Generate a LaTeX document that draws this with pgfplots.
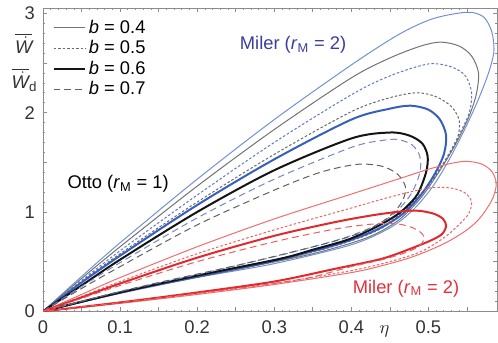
\documentclass[border=0pt]{standalone}
\usepackage{fontspec}
\setmainfont{Liberation Sans}
\usepackage{pgfplots}
\pgfplotsset{compat=1.18}
\definecolor{mbthin}{RGB}{115,145,210}
\definecolor{mbdot}{RGB}{95,120,200}
\definecolor{mbthick}{RGB}{55,95,190}
\definecolor{mbdash}{RGB}{115,135,195}
\definecolor{othin}{RGB}{115,115,115}
\definecolor{odot}{RGB}{105,105,110}
\definecolor{othick}{RGB}{20,20,20}
\definecolor{odash}{RGB}{95,95,100}
\definecolor{rthin}{RGB}{240,110,110}
\definecolor{rdot}{RGB}{235,100,100}
\definecolor{rthick}{RGB}{225,40,45}
\definecolor{rdash}{RGB}{232,95,95}
\definecolor{bluetxt}{RGB}{60,60,155}
\definecolor{redtxt}{RGB}{225,50,60}
\begin{document}
\fontsize{11}{13}\selectfont
\begin{tikzpicture}
\begin{axis}[
  scale only axis, width=272.4pt, height=181.8pt,
  xmin=0, xmax=0.589, ymin=0, ymax=3.05,
  xtick={0,0.05,0.1,0.15,0.2,0.25,0.3,0.35,0.4,0.45,0.5,0.55},
  xticklabels={0,,0.1,,0.2,,0.3,,0.4,,0.5,},
  ytick={0,0.5,1,1.5,2,2.5,3},
  yticklabels={0,,1,,2,,3},
  minor x tick num=4, minor y tick num=4,
  tick align=inside,
  major tick length=2.5pt, minor tick length=1pt,
  axis line style={draw=gray!90, line width=0.5pt},
  every tick/.style={gray!90, line width=0.4pt},
  tick label style={font=\fontsize{11}{13}\selectfont, black!80, inner sep=0pt},
  xticklabel style={yshift=-5.2pt},
  yticklabel style={xshift=-4.7pt},
  clip mode=individual,
  legend style={draw=none, fill=none, at={(axis cs:0.012,2.965)}, anchor=north west,
    font=\fontsize{11}{12}\selectfont, row sep=-0.5pt, inner sep=0pt,
    nodes={inner sep=1.6pt}, cells={anchor=west}},
  legend image code/.code={\draw[#1] (0pt,0pt) -- (19pt,0pt);},
  every axis plot/.append style={smooth, tension=0.5, mark=none},
]
\addlegendimage{othin, line width=0.6pt}
\addlegendentry{\textit{b} = 0.4}
\addlegendimage{odot, line width=0.6pt, dash pattern=on 1.5pt off 1.2pt}
\addlegendentry{\textit{b} = 0.5}
\addlegendimage{othick, line width=1.2pt}
\addlegendentry{\textit{b} = 0.6}
\addlegendimage{odash, line width=0.6pt, dash pattern=on 4pt off 2.5pt}
\addlegendentry{\textit{b} = 0.7}

% Miler (blue), b=0.4
\addplot[forget plot, mbthin, line width=0.6pt] coordinates {
(0,0)(0.05,0.35)(0.1,0.69)(0.2,1.33)(0.3,1.93)(0.4,2.48)(0.46,2.78)(0.5,2.93)(0.53,2.99)(0.555,3.01)(0.572,2.96)(0.582,2.82)(0.585,2.62)(0.578,2.40)(0.563,2.10)(0.545,1.80)(0.525,1.50)(0.505,1.25)(0.48,1.02)(0.45,0.84)(0.4,0.67)(0.3,0.48)(0.2,0.34)(0.1,0.18)(0,0)};
% Otto b=0.4
\addplot[forget plot, othin, line width=0.6pt] coordinates {
(0,0)(0.05,0.33)(0.1,0.65)(0.2,1.26)(0.3,1.83)(0.4,2.35)(0.45,2.55)(0.49,2.67)(0.516,2.71)(0.54,2.67)(0.556,2.57)(0.565,2.40)(0.562,2.18)(0.552,1.95)(0.535,1.68)(0.515,1.42)(0.49,1.14)(0.46,0.91)(0.42,0.74)(0.35,0.58)(0.25,0.42)(0.15,0.27)(0.08,0.15)(0,0)};
% Miler b=0.5
\addplot[forget plot, mbdot, line width=0.6pt, dash pattern=on 1.5pt off 1.2pt] coordinates {
(0,0)(0.05,0.31)(0.1,0.61)(0.2,1.17)(0.3,1.7)(0.4,2.18)(0.45,2.37)(0.5,2.49)(0.53,2.46)(0.548,2.37)(0.556,2.2)(0.553,2.0)(0.54,1.78)(0.52,1.5)(0.495,1.22)(0.465,0.97)(0.43,0.8)(0.38,0.66)(0.3,0.5)(0.2,0.35)(0.1,0.19)(0,0)};
% Otto b=0.5
\addplot[forget plot, odot, line width=0.6pt, dash pattern=on 1.5pt off 1.2pt] coordinates {
(0,0)(0.05,0.3)(0.1,0.58)(0.2,1.1)(0.3,1.58)(0.4,2.01)(0.45,2.15)(0.485,2.2)(0.51,2.16)(0.53,2.06)(0.54,1.92)(0.538,1.75)(0.525,1.55)(0.505,1.32)(0.48,1.1)(0.45,0.9)(0.41,0.75)(0.35,0.6)(0.25,0.42)(0.15,0.27)(0.08,0.15)(0,0)};
% Miler b=0.6
\addplot[forget plot, mbthick, line width=1.2pt] coordinates {
(0,0)(0.05,0.29)(0.1,0.56)(0.2,1.07)(0.3,1.53)(0.4,1.93)(0.45,2.04)(0.477,2.07)(0.5,2.03)(0.515,1.93)(0.523,1.77)(0.52,1.58)(0.508,1.38)(0.49,1.17)(0.465,0.97)(0.43,0.81)(0.38,0.67)(0.3,0.51)(0.2,0.35)(0.1,0.19)(0,0)};
% Otto b=0.6
\addplot[forget plot, othick, line width=1.2pt] coordinates {
(0,0)(0.05,0.26)(0.1,0.52)(0.2,1.0)(0.3,1.42)(0.4,1.74)(0.45,1.80)(0.475,1.77)(0.492,1.69)(0.499,1.56)(0.497,1.40)(0.486,1.18)(0.47,1.04)(0.455,0.95)(0.43,0.84)(0.395,0.72)(0.35,0.62)(0.308,0.53)(0.2,0.36)(0.1,0.19)(0,0)};
% Miler b=0.7
\addplot[forget plot, mbdash, line width=0.6pt, dash pattern=on 4pt off 2.5pt] coordinates {
(0,0)(0.05,0.25)(0.1,0.49)(0.2,0.94)(0.3,1.33)(0.4,1.65)(0.44,1.72)(0.46,1.73)(0.478,1.68)(0.488,1.58)(0.49,1.45)(0.485,1.3)(0.474,1.14)(0.455,0.98)(0.43,0.86)(0.395,0.75)(0.35,0.65)(0.3,0.55)(0.2,0.37)(0.1,0.2)(0,0)};
% Otto b=0.7
\addplot[forget plot, odash, line width=0.6pt, dash pattern=on 4pt off 2.5pt] coordinates {
(0,0)(0.05,0.23)(0.1,0.45)(0.2,0.87)(0.3,1.22)(0.36,1.40)(0.408,1.48)(0.44,1.46)(0.46,1.38)(0.47,1.26)(0.468,1.14)(0.458,1.02)(0.44,0.9)(0.415,0.8)(0.38,0.71)(0.33,0.61)(0.25,0.46)(0.15,0.29)(0.08,0.16)(0,0)};

% Miler (red), b=0.4
\addplot[forget plot, rthin, line width=0.6pt] coordinates {
(0,0)(0.05,0.17)(0.1,0.34)(0.2,0.65)(0.3,0.93)(0.4,1.18)(0.46,1.33)(0.5,1.43)(0.53,1.49)(0.55,1.51)(0.57,1.48)(0.583,1.4)(0.588,1.28)(0.583,1.13)(0.568,0.95)(0.55,0.82)(0.52,0.68)(0.48,0.55)(0.44,0.46)(0.4,0.39)(0.3,0.27)(0.2,0.17)(0.1,0.08)(0,0)};
% red b=0.5
\addplot[forget plot, rdot, line width=0.6pt, dash pattern=on 1.5pt off 1.2pt] coordinates {
(0,0)(0.05,0.15)(0.1,0.3)(0.2,0.58)(0.3,0.82)(0.4,1.04)(0.45,1.15)(0.5,1.24)(0.53,1.24)(0.548,1.19)(0.556,1.1)(0.552,0.98)(0.538,0.86)(0.52,0.74)(0.49,0.6)(0.45,0.5)(0.4,0.41)(0.3,0.28)(0.2,0.18)(0.1,0.085)(0,0)};
% red b=0.6
\addplot[forget plot, rthick, line width=1.2pt] coordinates {
(0,0)(0.05,0.14)(0.1,0.28)(0.2,0.54)(0.3,0.76)(0.38,0.9)(0.43,0.97)(0.47,1.01)(0.49,1.01)(0.508,0.98)(0.519,0.93)(0.523,0.86)(0.518,0.78)(0.505,0.72)(0.48,0.64)(0.44,0.53)(0.38,0.43)(0.3,0.3)(0.2,0.19)(0.1,0.09)(0,0)};
% red b=0.7
\addplot[forget plot, rdash, line width=0.6pt, dash pattern=on 4pt off 2.5pt] coordinates {
(0,0)(0.05,0.13)(0.1,0.26)(0.2,0.5)(0.3,0.7)(0.38,0.83)(0.43,0.88)(0.46,0.88)(0.48,0.84)(0.492,0.78)(0.494,0.72)(0.487,0.65)(0.47,0.59)(0.44,0.52)(0.4,0.45)(0.34,0.33)(0.25,0.23)(0.15,0.135)(0.08,0.07)(0,0)};

\node[bluetxt, anchor=center] at (axis cs:0.3245,2.68) {Miler (\textit{r}\textsubscript{M} = 2)};
\node[black, anchor=center] at (axis cs:0.0975,1.28) {Otto (\textit{r}\textsubscript{M} = 1)};
\node[redtxt, anchor=center] at (axis cs:0.471,0.23) {Miler (\textit{r}\textsubscript{M} = 2)};
\node[black!85, anchor=center] at (axis cs:0.443,-0.2) {$\eta$};
\node[black!80, anchor=center, inner sep=0pt] (w1) at (axis cs:-0.025,2.70) {$\overline{\vphantom{\dot{W}}\mbox{\itshape W}}$};
\node[black!80, anchor=center, inner sep=0pt] (w2) at (axis cs:-0.024,2.33) {$\overline{\vphantom{\dot{W}}\mbox{\itshape W}}_{\mbox{\fontsize{8}{9}\selectfont d}}$};
\fill[black!80] ([xshift=1.2pt, yshift=-2.6pt]w1.north) circle (0.5pt);
\fill[black!80] ([xshift=-1.1pt, yshift=-2.6pt]w2.north) circle (0.5pt);
\end{axis}
\pgfresetboundingbox
\path[use as bounding box] ([shift={(-25.8pt,-18.6pt)}]current axis.south west) rectangle ([shift={(0.6pt,5.0pt)}]current axis.north east);
\end{tikzpicture}
\end{document}
